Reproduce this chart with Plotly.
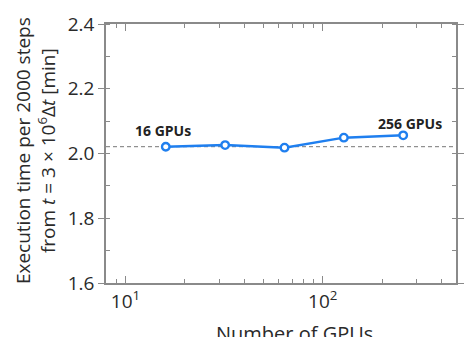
import math
import plotly.graph_objects as go

gpus = [16, 32, 64, 128, 256]
exec_time = [2.021, 2.026, 2.018, 2.049, 2.056]
reference_time = 2.021
x_tickvals = [10, 100]
x_ticktext = ["10<sup>1</sup>", "10<sup>2</sup>"]
y_tickvals = [1.6, 1.8, 2.0, 2.2, 2.4]
y_ticktext = ["1.6", "1.8", "2.0", "2.2", "2.4"]
labels = ["16 GPUs", "256 GPUs"]

FONT = "Open Sans"
TXT = "#2a2a2a"
AX = "#8a8a8a"

fig = go.Figure()
fig.add_trace(go.Scatter(
    x=gpus, y=exec_time, mode="lines+markers",
    line=dict(color="#1f7fef", width=2.5),
    marker=dict(symbol="circle", size=7.5, color="white",
                line=dict(color="#1f7fef", width=2.4)),
    showlegend=False,
))
fig.add_hline(y=reference_time, line=dict(color="#777777", width=1, dash="4px,3px"), layer="below")

fig.add_annotation(x=math.log10(gpus[0]), y=exec_time[0], xref="x", yref="y",
                   text="<b>" + labels[0] + "</b>", showarrow=False, yshift=16, xshift=-3,
                   font=dict(family=FONT, size=14, color="#222"))
fig.add_annotation(x=math.log10(gpus[-1]), y=exec_time[-1], xref="x", yref="y",
                   text="<b>" + labels[1] + "</b>", showarrow=False, yshift=12, xshift=7,
                   font=dict(family=FONT, size=14, color="#222"))

# axis titles as annotations for precise placement
fig.add_annotation(x=-0.203, y=0.513, xref="paper", yref="paper",
                   text="Execution time per 2000 steps<br>from <i>t</i> = 3 × 10<sup>6</sup>Δ<i>t</i> [min]",
                   textangle=-90, showarrow=False, xanchor="center", yanchor="middle",
                   font=dict(family=FONT, size=19, color=TXT))
fig.add_annotation(x=0.539, y=-0.135, xref="paper", yref="paper",
                   text="Number of GPUs", showarrow=False, xanchor="center", yanchor="top",
                   font=dict(family=FONT, size=20, color=TXT))

fig.update_layout(
    width=464, height=337,
    margin=dict(l=106, r=0, t=24, b=54),
    paper_bgcolor="white", plot_bgcolor="white",
    font=dict(family=FONT, color=TXT, size=19),
    xaxis=dict(
        type="log", range=[0.901, 2.676],
        tickvals=x_tickvals, ticktext=x_ticktext,
        ticks="inside", ticklen=7, tickcolor=AX, tickwidth=1,
        minor=dict(ticks="inside", ticklen=4, tickcolor=AX,
                   tickvals=[8, 9, 20, 30, 40, 50, 60, 70, 80, 90, 200, 300, 400]),
        showline=True, linecolor=AX, linewidth=1.5, mirror="ticks",
        showgrid=False, zeroline=False,
        tickfont=dict(size=19, color=TXT),
    ),
    yaxis=dict(
        range=[1.6, 2.4],
        tickvals=y_tickvals, ticktext=y_ticktext,
        ticks="outside", ticklen=6, tickcolor=AX, tickwidth=1,
        minor=dict(ticks="inside", ticklen=4, tickcolor=AX, dtick=0.1),
        showline=True, linecolor=AX, linewidth=1.5, mirror="ticks",
        showgrid=False, zeroline=False,
        tickfont=dict(size=19, color=TXT),
    ),
)

fig.write_html("out.html", config={"displayModeBar": False},
               post_script="document.body.style.margin='0';document.body.style.overflow='hidden';")
